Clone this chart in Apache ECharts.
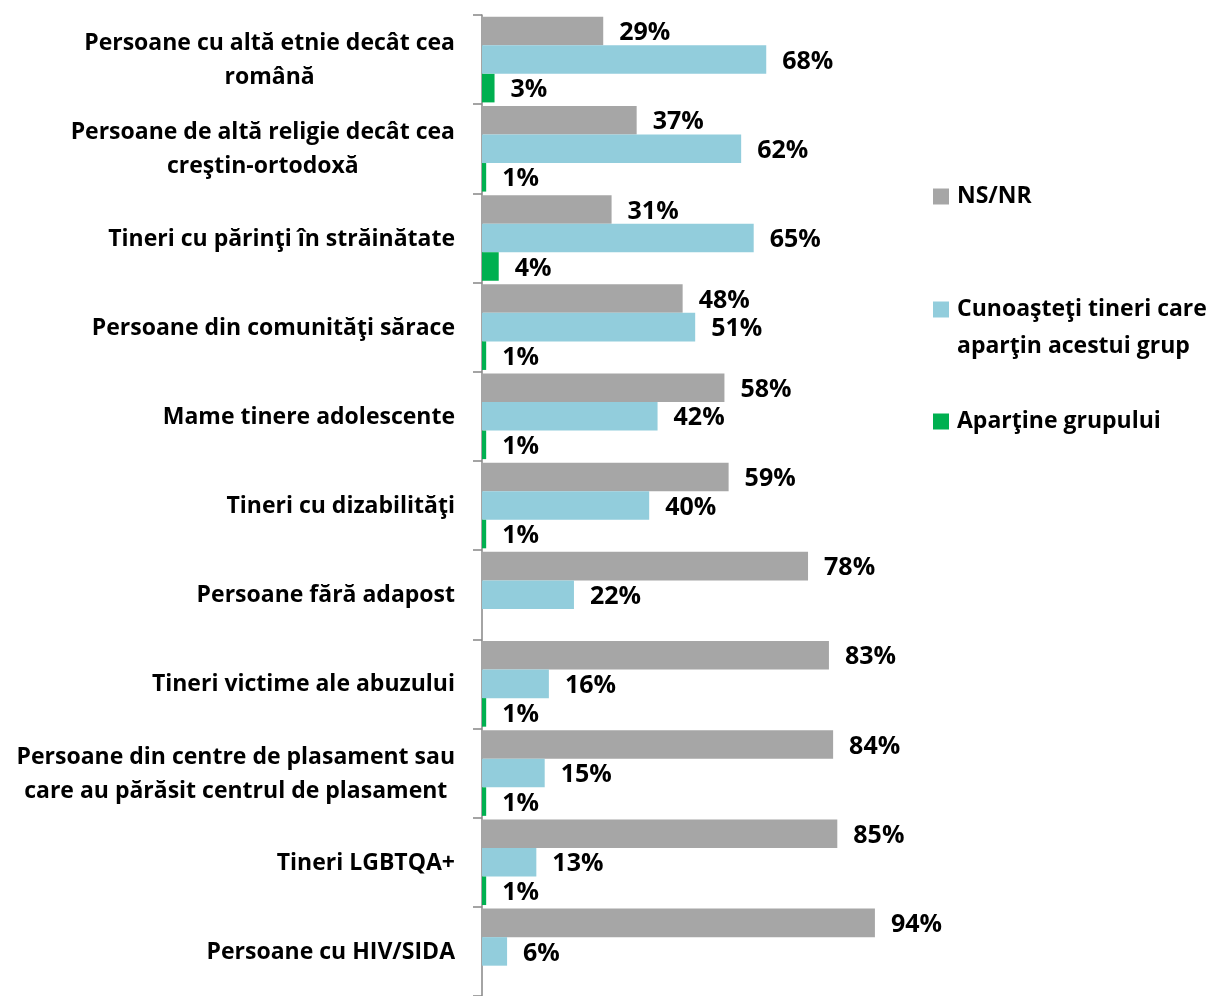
<!DOCTYPE html>
<html>
<head>
<meta charset="utf-8">
<script src="https://cdn.jsdelivr.net/npm/echarts@6/dist/echarts.min.js"></script>
<style>
  html, body { margin: 0; padding: 0; background: #fff; }
  #chart { width: 1207px; height: 996px; }
</style>
</head>
<body>
<div id="chart"></div>
<script>
const categories = [
  "Persoane cu altă etnie decât cea\nromână",
  "Persoane de altă religie decât cea\ncreştin-ortodoxă",
  "Tineri cu părinţi în străinătate",
  "Persoane din comunităţi sărace",
  "Mame tinere adolescente",
  "Tineri cu dizabilităţi",
  "Persoane fără adapost",
  "Tineri victime ale abuzului",
  "Persoane din centre de plasament sau\ncare au părăsit centrul de plasament",
  "Tineri LGBTQA+",
  "Persoane cu HIV/SIDA",
];
const seriesNames = [
  "NS/NR",
  "Cunoaşteţi tineri care aparţin acestui grup",
  "Aparţine grupului",
];
const nsnr = [29, 37, 31, 48, 58, 59, 78, 83, 84, 85, 94];
const cunoasteti = [68, 62, 65, 51, 42, 40, 22, 16, 15, 13, 6];
const apartine = [3, 1, 4, 1, 1, 1, null, 1, 1, 1, null];

const colors = ["#A6A6A6", "#92CDDC", "#00B050"];
const font = "Open Sans";

const chart = echarts.init(document.getElementById("chart"));

// each line centred inside the label block (like Excel wrapped labels)
const centerLines = (value) =>
  value.split("\n").map((l) => "{c|" + l + "}").join("\n");

const makeSeries = (name, data, color) => ({
  name: name,
  type: "bar",
  data: data,
  barGap: "0%",
  barCategoryGap: "4%",
  itemStyle: { color: color },
  label: {
    show: true,
    position: "right",
    distance: 16,
    offset: [0, 2],
    formatter: (p) => (p.value == null ? "" : p.value + "%"),
    color: "#000",
    fontFamily: font,
    fontWeight: "bold",
    fontSize: 25,
  },
});

const legendText = {
  color: "#000",
  fontFamily: font,
  fontWeight: "bold",
  fontSize: 23,
  lineHeight: 37,
  padding: [0, 0, 0, 3],
};
const makeLegend = (name, top, formatter) => ({
  data: [name],
  left: 933,
  top: top,
  padding: 0,
  icon: "rect",
  itemWidth: 16,
  itemHeight: 16,
  selectedMode: false,
  textStyle: legendText,
  formatter: formatter,
});

const option = {
  animation: false,
  grid: { left: 482, top: 15, width: 418, height: 985 },
  legend: [
    makeLegend(seriesNames[0], 178, (n) => n),
    // blank first line keeps the marker level with the first text line
    makeLegend(seriesNames[1], 254, () => "\nCunoaşteţi tineri care\naparţin acestui grup"),
    makeLegend(seriesNames[2], 403, (n) => n),
  ],
  xAxis: {
    type: "value",
    min: 0,
    max: 100,
    show: false,
  },
  yAxis: {
    type: "category",
    inverse: true,
    data: categories,
    axisLine: { show: true, lineStyle: { color: "#868686", width: 1.5 } },
    axisTick: { show: true, length: 9, lineStyle: { color: "#868686", width: 1.5 } },
    axisLabel: {
      margin: 27,
      formatter: centerLines,
      rich: {
        c: {
          align: "center",
          color: "#000",
          fontFamily: font,
          fontWeight: "bold",
          fontSize: 23,
          lineHeight: 34,
          padding: [2, 0, 0, 0],
        },
      },
    },
  },
  series: [
    makeSeries(seriesNames[0], nsnr, colors[0]),
    makeSeries(seriesNames[1], cunoasteti, colors[1]),
    makeSeries(seriesNames[2], apartine, colors[2]),
  ],
};

option && chart.setOption(option);
</script>
</body>
</html>
